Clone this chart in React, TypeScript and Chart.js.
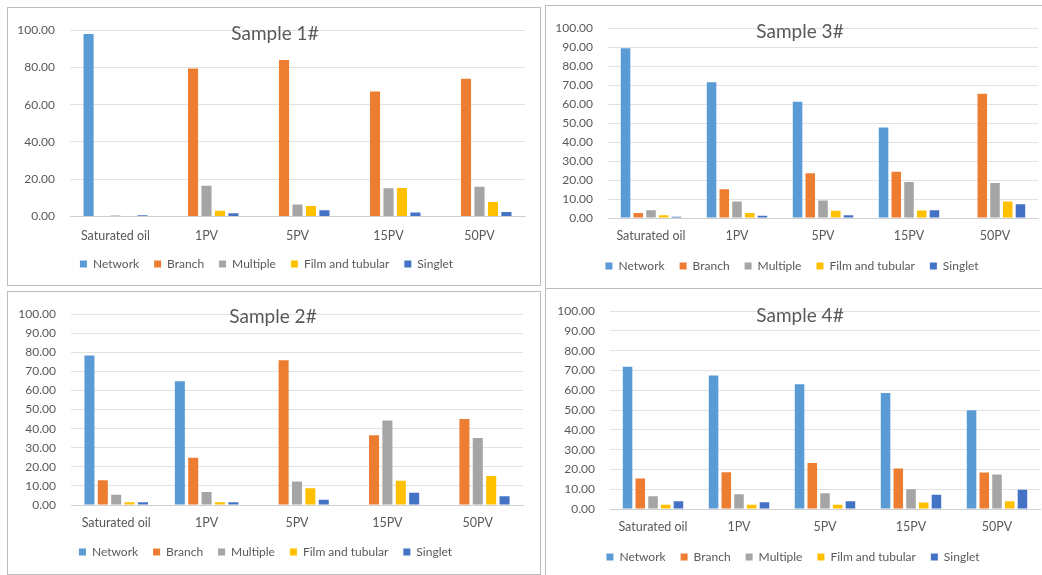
import React, { useEffect, useRef } from "react";
import { Chart, registerables } from "chart.js";

Chart.register(...registerables);

// ---------- data ----------
const categories = ["Saturated oil", "1PV", "5PV", "15PV", "50PV"];
const seriesNames = ["Network", "Branch", "Multiple", "Film and tubular", "Singlet"];
const yTicks1 = [0, 20, 40, 60, 80, 100];
const yTicks10 = [0, 10, 20, 30, 40, 50, 60, 70, 80, 90, 100];

// Sample 1#
const network1 = [98.0, 0, 0, 0, 0];
const branch1 = [0, 79.5, 84.0, 67.1, 73.9];
const multiple1 = [0.5, 16.5, 6.4, 15.1, 16.0];
const film1 = [0.3, 3.1, 5.7, 15.3, 7.8];
const singlet1 = [0.7, 1.7, 3.3, 2.1, 2.4];

// Sample 3#
const network3 = [89.4, 71.5, 61.2, 47.7, 0];
const branch3 = [2.7, 15.2, 23.6, 24.4, 65.5];
const multiple3 = [4.1, 8.7, 9.2, 19.0, 18.5];
const film3 = [1.4, 2.7, 3.8, 3.9, 8.7];
const singlet3 = [0.7, 1.2, 1.4, 4.1, 7.2];

// Sample 2#
const network2 = [78.4, 64.9, 0, 0, 0];
const branch2 = [13.0, 24.7, 75.8, 36.5, 45.1];
const multiple2 = [5.4, 6.8, 12.3, 44.3, 35.1];
const film2 = [1.5, 1.5, 8.8, 12.7, 15.2];
const singlet2 = [1.5, 1.5, 2.7, 6.4, 4.6];

// Sample 4#
const network4 = [71.9, 67.5, 63.1, 58.6, 49.9];
const branch4 = [15.4, 18.6, 23.2, 20.5, 18.4];
const multiple4 = [6.4, 7.4, 7.9, 10.0, 17.4];
const film4 = [2.1, 2.1, 2.1, 3.3, 3.9];
const singlet4 = [3.9, 3.4, 3.9, 7.2, 9.7];

// ---------- styles ----------
const COLORS = ["#5B9BD5", "#ED7D31", "#A5A5A5", "#FFC000", "#4472C4"];
const FONT = "Lato, 'Open Sans', sans-serif";
const TEXT = "#595959";

type Layout = {
  box: { left: number; top: number; width: number; height: number };
  plot: { left: number; right: number; top: number; bottom: number };
  labelsY: number;
  legendY: number;
  title: { x: number; y: number };
};

const PANELS: { title: string; series: number[][]; ticks: number[]; layout: Layout }[] = [
  {
    title: "Sample 1#",
    series: [network1, branch1, multiple1, film1, singlet1],
    ticks: yTicks1,
    layout: {
      box: { left: 7, top: 7, width: 534, height: 279 },
      plot: { left: 70, right: 525, top: 25, bottom: 216.5 },
      labelsY: 236,
      legendY: 264,
      title: { x: 275, y: 34 },
    },
  },
  {
    title: "Sample 3#",
    series: [network3, branch3, multiple3, film3, singlet3],
    ticks: yTicks10,
    layout: {
      box: { left: 545, top: 5, width: 512, height: 284 },
      plot: { left: 608, right: 1038, top: 23, bottom: 218 },
      labelsY: 236,
      legendY: 266,
      title: { x: 800, y: 32 },
    },
  },
  {
    title: "Sample 2#",
    series: [network2, branch2, multiple2, film2, singlet2],
    ticks: yTicks10,
    layout: {
      box: { left: 7, top: 291, width: 534, height: 284 },
      plot: { left: 71, right: 523, top: 308, bottom: 505 },
      labelsY: 523,
      legendY: 552,
      title: { x: 273, y: 317 },
    },
  },
  {
    title: "Sample 4#",
    series: [network4, branch4, multiple4, film4, singlet4],
    ticks: yTicks10,
    layout: {
      box: { left: 545, top: 288, width: 512, height: 292 },
      plot: { left: 610, right: 1040, top: 306, bottom: 509 },
      labelsY: 527,
      legendY: 557,
      title: { x: 800, y: 316 },
    },
  },
];

function Panel({ spec }: { spec: (typeof PANELS)[number] }) {
  const ref = useRef<HTMLCanvasElement | null>(null);
  const L = spec.layout;
  const cw = L.box.width - 2;
  const ch = L.box.height - 2;

  useEffect(() => {
    if (!ref.current) return;
    const ox = L.box.left + 1;
    const oy = L.box.top + 1;
    const plotLeft = L.plot.left - ox;
    const plotRight = L.plot.right - ox;
    const plotTop = L.plot.top - oy;
    const plotBottom = L.plot.bottom - oy;
    const legendY = L.legendY - oy;
    const labelsY = L.labelsY - oy;
    const fontSize = 12;
    const xFontSize = 12.5;
    const legendPad = 15;
    const padBottom = ch - fontSize / 2 - 10 - legendY;
    const legendH = fontSize + legendPad + 10;
    const xAxisH = ch - padBottom - legendH - plotBottom;
    const xTickPad = labelsY - plotBottom - (xFontSize * 1.2) / 2;
    const step = spec.ticks[1] - spec.ticks[0];
    const maxV = spec.ticks[spec.ticks.length - 1];

    const titlePlugin = {
      id: "overlayTitle",
      afterDraw(chart: any) {
        const ctx = chart.ctx;
        ctx.save();
        ctx.font = `19px ${FONT}`;
        ctx.fillStyle = TEXT;
        ctx.textAlign = "center";
        ctx.textBaseline = "middle";
        ctx.fillText(spec.title, L.title.x - ox, L.title.y - oy);
        ctx.restore();
      },
    };

    const chart = new Chart(ref.current, {
      type: "bar",
      data: {
        labels: categories,
        datasets: seriesNames.map((name, i) => ({
          label: name,
          data: spec.series[i],
          backgroundColor: COLORS[i],
          borderWidth: 0,
          categoryPercentage: 0.74,
          barPercentage: 0.75,
        })),
      },
      options: {
        animation: false,
        responsive: false,
        maintainAspectRatio: false,
        layout: {
          padding: { left: 0, top: plotTop, right: cw - plotRight, bottom: padBottom },
        },
        plugins: {
          title: { display: false },
          tooltip: { enabled: false },
          legend: {
            display: true,
            position: "bottom",
            labels: {
              boxWidth: 7,
              boxHeight: 7,
              padding: legendPad,
              color: TEXT,
              font: { family: FONT, size: fontSize },
            },
          },
        },
        scales: {
          x: {
            grid: { display: false, drawTicks: false },
            border: { display: true, color: "#d0d0d0" },
            ticks: {
              color: TEXT,
              font: { family: FONT, size: xFontSize },
              padding: xTickPad,
              maxRotation: 0,
              autoSkip: false,
            },
            afterFit: (s: any) => {
              s.height = xAxisH;
            },
          },
          y: {
            min: 0,
            max: maxV,
            grid: { color: "#e2e2e2", drawTicks: false },
            border: { display: false },
            ticks: {
              stepSize: step,
              color: TEXT,
              font: { family: FONT, size: fontSize },
              padding: 15,
              callback: (v: any) => Number(v).toFixed(2),
            },
            afterFit: (s: any) => {
              s.width = plotLeft;
            },
          },
        },
      },
      plugins: [titlePlugin],
    });
    return () => chart.destroy();
  }, []);

  return (
    <div
      style={{
        position: "absolute",
        left: L.box.left,
        top: L.box.top,
        width: L.box.width,
        height: L.box.height,
        boxSizing: "border-box",
        border: "1px solid #bdbdbd",
        background: "#ffffff",
      }}
    >
      <canvas ref={ref} width={cw} height={ch} style={{ display: "block", width: cw, height: ch }} />
    </div>
  );
}

export default function App() {
  return (
    <div
      style={{
        position: "absolute",
        left: 0,
        top: 0,
        width: 1042,
        height: 575,
        overflow: "hidden",
        background: "#ffffff",
      }}
    >
      {PANELS.map((p) => (
        <Panel key={p.title} spec={p} />
      ))}
    </div>
  );
}
